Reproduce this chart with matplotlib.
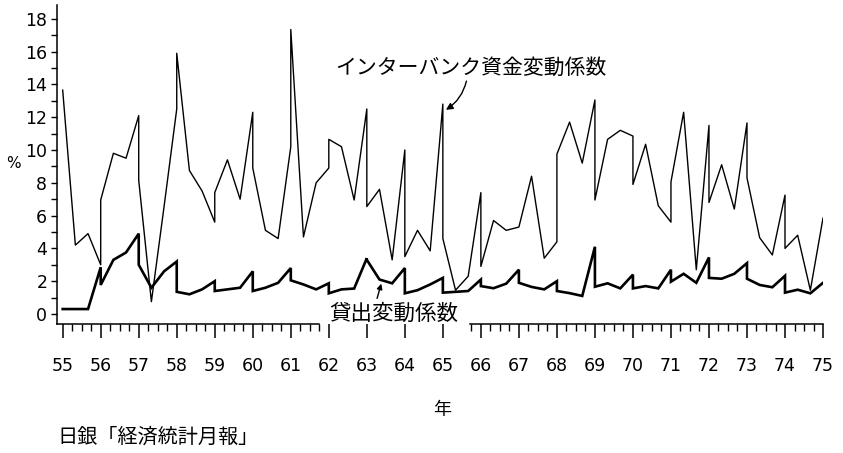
import matplotlib.pyplot as plt
import numpy as np

plt.rcParams['font.family'] = ['DejaVu Sans', 'Noto Sans CJK JP']

# years 1955-1974, four quarterly readings per year (%)
years = np.arange(55, 75)

interbank = [
    [13.65, 4.2, 4.9, 3.0],    # 55
    [6.95, 9.8, 9.5, 12.1],    # 56
    [8.15, 0.75, 6.55, 12.5],  # 57
    [15.9, 8.75, 7.5, 5.6],    # 58
    [7.4, 9.4, 7.0, 12.3],     # 59
    [8.9, 5.1, 4.6, 10.2],     # 60
    [17.35, 4.7, 8.0, 8.9],    # 61
    [10.65, 10.2, 6.95, 12.5], # 62
    [6.55, 7.6, 3.3, 10.0],    # 63
    [3.5, 5.1, 3.85, 12.8],    # 64
    [4.6, 1.45, 2.3, 7.4],     # 65
    [2.9, 5.7, 5.1, 5.3],      # 66
    [5.3, 8.4, 3.4, 4.4],      # 67
    [9.75, 11.7, 9.2, 13.05],  # 68
    [6.95, 10.65, 11.2, 10.85],# 69
    [7.9, 10.35, 6.6, 5.6],    # 70
    [8.05, 12.3, 2.7, 11.5],   # 71
    [6.8, 9.1, 6.4, 11.65],    # 72
    [8.3, 4.65, 3.6, 7.25],    # 73
    [4.0, 4.8, 1.45, 5.85],    # 74
]

loans = [
    [0.3, 0.3, 0.3, 2.85],     # 55
    [1.77, 3.3, 3.75, 4.9],    # 56
    [3.0, 1.6, 2.6, 3.2],      # 57
    [1.35, 1.2, 1.5, 2.0],     # 58
    [1.4, 1.5, 1.6, 2.6],      # 59
    [1.4, 1.6, 1.9, 2.8],      # 60
    [2.05, 1.8, 1.5, 1.87],    # 61
    [1.26, 1.5, 1.55, 3.4],    # 62
    [3.3, 2.1, 1.87, 2.8],     # 63
    [1.26, 1.45, 1.8, 2.2],    # 64
    [1.3, 1.35, 1.4, 2.1],     # 65
    [1.7, 1.57, 1.85, 2.7],    # 66
    [1.9, 1.65, 1.5, 2.0],     # 67
    [1.4, 1.27, 1.1, 4.1],     # 68
    [1.66, 1.87, 1.56, 2.4],   # 69
    [1.56, 1.7, 1.56, 2.7],    # 70
    [1.97, 2.45, 1.9, 3.45],   # 71
    [2.2, 2.15, 2.45, 3.1],    # 72
    [2.15, 1.77, 1.63, 2.33],  # 73
    [1.3, 1.48, 1.26, 1.9],    # 74
]

year_labels = [str(y) for y in range(55, 76)]


# each year is drawn across its own span, first quarter at the start of the
# year and the fourth quarter at the start of the next one
def year_points(values):
    offsets = np.array([0, 1 / 3, 2 / 3, 1])
    x = np.concatenate([y + offsets for y in years])
    return x, np.concatenate(values)


fig = plt.figure(figsize=(8.43, 4.53), dpi=100)
ax = fig.add_axes([0.0676, 0.2852, 0.9087, 0.704])

x, y = year_points(interbank)
ax.plot(x, y, color="black", lw=1.0)
x, y = year_points(loans)
ax.plot(x, y, color="black", lw=1.9, solid_joinstyle="miter")

ymin = -0.6
ax.set_xlim(54.85, 75.0)
ax.set_ylim(ymin, 18.85)

for side in ["top", "right", "bottom"]:
    ax.spines[side].set_visible(False)
ax.spines["left"].set_linewidth(1.1)

# broken x axis line, left part and right part
ax.plot([54.85, 61.75], [ymin, ymin], color="black", lw=1.1, clip_on=False)
ax.plot([65.72, 75.0], [ymin, ymin], color="black", lw=1.1, clip_on=False)

ax.set_xticks(np.arange(55, 76))
ax.set_xticklabels(year_labels)
quarters = np.arange(55, 75, 0.25)
quarters = [q for q in quarters if q % 1 != 0 and not (61.8 < q < 65.7)]
ax.set_xticks(quarters, minor=True)
ax.tick_params(axis="x", which="major", length=10, width=1.1, pad=14,
               labelsize=12.5)
ax.tick_params(axis="x", which="minor", length=5, width=1.0)

ax.set_yticks(np.arange(0, 19, 2))
ax.set_yticks(np.arange(1, 19, 2), minor=True)
ax.tick_params(axis="y", which="both", length=4, width=1.0, pad=3,
               labelsize=12.5)

jp = ["Noto Sans CJK JP"]
ax.text(65.73, 15.0, "インターバンク資金変動係数", fontsize=15, family=jp,
        ha="center", va="center")
ax.annotate("", xy=(65.08, 12.45), xytext=(65.62, 14.2),
            arrowprops=dict(arrowstyle="-|>", color="black", lw=1.0,
                            mutation_scale=10, shrinkA=0, shrinkB=0,
                            connectionstyle="arc3,rad=-0.2"))

ax.text(63.7, 0.02, "貸出変動係数", fontsize=15.5, family=jp,
        ha="center", va="center")
ax.annotate("", xy=(63.38, 1.85), xytext=(63.27, 0.95),
            arrowprops=dict(arrowstyle="-|>", color="black", lw=1.0,
                            mutation_scale=8, shrinkA=0, shrinkB=0))

fig.text(0.0154, 0.640, "%", fontsize=11, ha="center", va="center")
fig.text(0.524, 0.095, "年", fontsize=13, family=jp, ha="center", va="center")
fig.text(0.0676, 0.035, "日銀「経済統計月報」", fontsize=14.5, family=jp,
         ha="left", va="center")

fig.savefig("out.png", dpi=100)
